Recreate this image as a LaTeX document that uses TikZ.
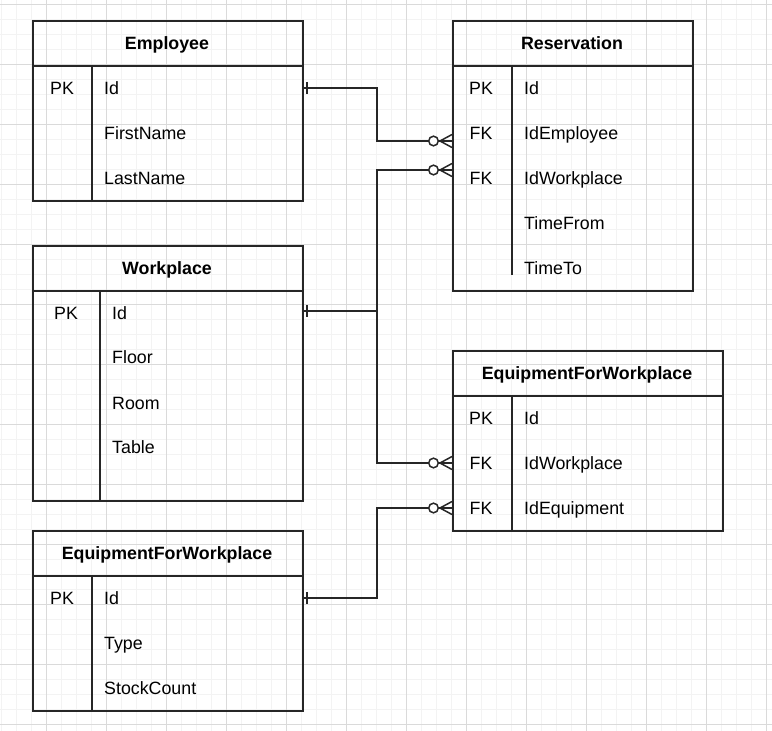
\documentclass[tikz,border=0pt]{standalone}
\usepackage{fontspec}
\setmainfont{Liberation Sans}
\newfontfamily\erfont{Liberation Sans}
\definecolor{linec}{HTML}{262626}
\definecolor{minorg}{RGB}{243,243,243}
\definecolor{majorg}{RGB}{218,218,218}
\tikzset{
  tbl/.style={draw=linec, line width=1.5pt},
  sepline/.style={draw=linec, line width=1.5pt},
  hdr/.style={font=\erfont\bfseries\fontsize{17.8}{20}\selectfont, text height=12.7pt, text depth=0pt, inner sep=0pt},
  keytxt/.style={font=\erfont\fontsize{17.8}{20}\selectfont, text height=12.7pt, text depth=0pt, inner sep=0pt},
  fld/.style={keytxt, anchor=west},
  conn/.style={draw=linec, line width=1.5pt},
  minorline/.style={draw=minorg, line width=1pt},
  majorline/.style={draw=majorg, line width=1pt},
  onebar/.pic={\draw[conn] (5,-6) -- (5,6);},
  zeromany/.pic={\draw[conn] (-12,0) -- (0,-6.5) (-12,0) -- (0,6.5) (-14,0) -- (0,0);
                 \draw[conn, fill=white] (-18.5,0) circle (4.8pt);}
}
\begin{document}
\begin{tikzpicture}[x=1pt, y=-1pt]
\useasboundingbox (0,0) rectangle (772,731);
\fill[white] (0,0) rectangle (772,731);
% grid
\foreach \x in {1.7,16.7,...,771.7} \draw[minorline] (\x,0) -- (\x,731);
\foreach \y in {4.3,19.3,...,730.3} \draw[minorline] (0,\y) -- (772,\y);
\foreach \x in {46.7,106.7,...,766.7} \draw[majorline] (\x,0) -- (\x,731);
\foreach \y in {4.3,64.3,...,724.3} \draw[majorline] (0,\y) -- (772,\y);

% ---------- Employee ----------
\node[tbl, anchor=north west, minimum width=270pt, minimum height=180pt] (emp) at (32,20) {};
\draw[sepline] (32,66) -- (302,66);
\draw[sepline] (92,66) -- (92,200);
\node[hdr] (empH) at (167,43) {Employee};
\node[keytxt] (empK1) at (62,88) {PK};
\node[fld] (empF1) at (104,88) {Id};
\node[fld] (empF2) at (104,133) {FirstName};
\node[fld] (empF3) at (104,178) {LastName};

% ---------- Reservation ----------
\node[tbl, anchor=north west, minimum width=240pt, minimum height=270pt] (res) at (452,20) {};
\draw[sepline] (452,66) -- (692,66);
\draw[sepline] (512,66) -- (512,275);
\node[hdr] (resH) at (572,43) {Reservation};
\node[keytxt] (resK1) at (481,88) {PK};
\node[keytxt] (resK2) at (481,133) {FK};
\node[keytxt] (resK3) at (481,178) {FK};
\node[fld] (resF1) at (524,88) {Id};
\node[fld] (resF2) at (524,133) {IdEmployee};
\node[fld] (resF3) at (524,178) {IdWorkplace};
\node[fld] (resF4) at (524,223) {TimeFrom};
\node[fld] (resF5) at (524,268) {TimeTo};

% ---------- Workplace ----------
\node[tbl, anchor=north west, minimum width=270pt, minimum height=255pt] (wp) at (32,245) {};
\draw[sepline] (32,291) -- (302,291);
\draw[sepline] (100,291) -- (100,500);
\node[hdr] (wpH) at (167,268) {Workplace};
\node[keytxt] (wpK1) at (66,313) {PK};
\node[fld] (wpF1) at (112,313) {Id};
\node[fld] (wpF2) at (112,357) {Floor};
\node[fld] (wpF3) at (112,403) {Room};
\node[fld] (wpF4) at (112,447) {Table};

% ---------- EquipmentForWorkplace (right) ----------
\node[tbl, anchor=north west, minimum width=270pt, minimum height=180pt] (efw) at (452,350) {};
\draw[sepline] (452,396) -- (722,396);
\draw[sepline] (512,396) -- (512,530);
\node[hdr] (efwH) at (587,373) {EquipmentForWorkplace};
\node[keytxt] (efwK1) at (481,418) {PK};
\node[keytxt] (efwK2) at (481,463) {FK};
\node[keytxt] (efwK3) at (481,508) {FK};
\node[fld] (efwF1) at (524,418) {Id};
\node[fld] (efwF2) at (524,463) {IdWorkplace};
\node[fld] (efwF3) at (524,508) {IdEquipment};

% ---------- EquipmentForWorkplace (left) ----------
\node[tbl, anchor=north west, minimum width=270pt, minimum height=180pt] (eq) at (32,530) {};
\draw[sepline] (32,576) -- (302,576);
\draw[sepline] (92,576) -- (92,710);
\node[hdr] (eqH) at (167,553) {EquipmentForWorkplace};
\node[keytxt] (eqK1) at (62,598) {PK};
\node[fld] (eqF1) at (104,598) {Id};
\node[fld] (eqF2) at (104,643) {Type};
\node[fld] (eqF3) at (104,688) {StockCount};

% ---------- ports ----------
\coordinate (empId) at (302,88);
\coordinate (resEmp) at (452,141);
\coordinate (wpId) at (302,311);
\coordinate (wpJ) at (377,311);
\coordinate (resWp) at (452,170);
\coordinate (efwWp) at (452,463);
\coordinate (eqId) at (302,598);
\coordinate (efwEq) at (452,508);

% ---------- connectors ----------
\draw[conn] (empId) -- ++(75,0) |- (resEmp);
\draw[conn] (wpId) -- (wpJ) |- (resWp);
\draw[conn] (wpJ) |- (efwWp);
\draw[conn] (eqId) -- ++(75,0) |- (efwEq);

\pic at (empId) {onebar};
\pic at (wpId) {onebar};
\pic at (eqId) {onebar};
\pic at (resEmp) {zeromany};
\pic at (resWp) {zeromany};
\pic at (efwWp) {zeromany};
\pic at (efwEq) {zeromany};
\end{tikzpicture}
\end{document}
